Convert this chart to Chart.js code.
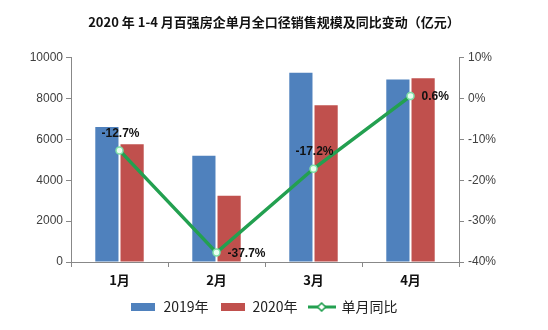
<!DOCTYPE html>
<html>
<head>
<meta charset="utf-8">
<script src="https://cdn.jsdelivr.net/npm/chart.js@4"></script>
<style>
  html, body { margin: 0; padding: 0; background: #ffffff; }
  #wrap { width: 548px; height: 330px; position: relative; }
</style>
</head>
<body>
<div id="wrap"><canvas id="c" width="548" height="330"></canvas></div>
<script>
// Monthly sales of the top-100 developers (亿元) and year-on-year change (%)
const months = ['1月', '2月', '3月', '4月'];
const sales2019 = [6600, 5200, 9260, 8930];
const sales2020 = [5760, 3240, 7670, 8985];
const yoyChange = [-12.7, -37.7, -17.2, 0.6];
const leftTicks = [0, 2000, 4000, 6000, 8000, 10000];
const rightTicks = [-40, -30, -20, -10, 0, 10];

const BLUE = '#4f81bd';
const RED = '#c0504d';
const GREEN = '#23a050';
const CN = '"Noto Sans CJK SC", "Liberation Sans", sans-serif';
const LAT = '"Liberation Sans", Arial, sans-serif';

// legend swatches
function swatch(w, h, draw) {
  const cv = document.createElement('canvas');
  cv.width = w; cv.height = h;
  draw(cv.getContext('2d'));
  return cv;
}
const blueBox = swatch(24, 8, g => { g.fillStyle = BLUE; g.fillRect(0, 0, 24, 8); });
const redBox = swatch(24, 8, g => { g.fillStyle = RED; g.fillRect(0, 0, 24, 8); });
const lineMark = swatch(28, 10, g => {
  g.strokeStyle = GREEN; g.lineWidth = 3;
  g.beginPath(); g.moveTo(0, 5); g.lineTo(28, 5); g.stroke();
  g.fillStyle = '#ffffff'; g.lineWidth = 1.6;
  g.beginPath(); g.moveTo(14, 1); g.lineTo(18, 5); g.lineTo(14, 9); g.lineTo(10, 5); g.closePath();
  g.fill(); g.stroke();
});

// value labels beside the line points
const pointLabels = {
  id: 'pointLabels',
  afterDatasetsDraw(chart, args, opts) {
    const meta = chart.getDatasetMeta(0);
    const ctx = chart.ctx;
    ctx.save();
    ctx.font = 'bold 12px ' + LAT;
    ctx.fillStyle = '#111';
    ctx.textBaseline = 'middle';
    ctx.textAlign = 'left';
    meta.data.forEach((pt, i) => {
      const txt = yoyChange[i].toFixed(1) + '%';
      const w = ctx.measureText(txt).width;
      if (opts.place[i] === 'above') {
        ctx.fillText(txt, pt.x + 1 - w / 2, pt.y - 17);
      } else {
        ctx.fillText(txt, pt.x + 11, pt.y + 1);
      }
    });
    ctx.restore();
  }
};

// centre the legend under the plot area rather than the whole canvas
const legendShift = {
  id: 'legendShift',
  afterLayout(chart) {
    if (chart.legend) chart.legend.left -= 20;
  }
};

new Chart(document.getElementById('c'), {
  data: {
    labels: months,
    datasets: [
      {
        type: 'line', label: '单月同比', data: yoyChange, yAxisID: 'y1', order: 0,
        borderColor: GREEN, borderWidth: 3.5, backgroundColor: '#c8f5da',
        pointStyle: 'circle', pointRadius: 3.5, pointBorderWidth: 1.5,
        pointBorderColor: '#7fe0a8', pointBackgroundColor: '#e8fff0',
        tension: 0, fill: false
      },
      { type: 'bar', label: '2019年', data: sales2019, yAxisID: 'y', backgroundColor: BLUE, order: 1,
        categoryPercentage: 0.52, barPercentage: 0.92 },
      { type: 'bar', label: '2020年', data: sales2020, yAxisID: 'y', backgroundColor: RED, order: 1,
        categoryPercentage: 0.52, barPercentage: 0.92 }
    ]
  },
  options: {
    responsive: false,
    animation: false,
    layout: { padding: { left: 0, right: 0, top: 0, bottom: 6 } },
    scales: {
      x: {
        grid: { display: true, drawOnChartArea: false, offset: true, tickLength: 5, color: '#888' },
        border: { color: '#888', width: 1 },
        ticks: { font: { family: CN, size: 13, weight: 'bold' }, color: '#111', padding: 5 },
        afterFit(s) { s.height = 27; }
      },
      y: {
        position: 'left', min: 0, max: 10000,
        afterBuildTicks(s) { s.ticks = leftTicks.map(v => ({ value: v })); },
        grid: { display: true, drawOnChartArea: false, tickLength: 5, color: '#888' },
        border: { color: '#888', width: 1 },
        ticks: { font: { family: LAT, size: 12 }, color: '#404040', padding: 3, callback: v => String(v) },
        afterFit(s) { s.width = 71; }
      },
      y1: {
        position: 'right', min: -40, max: 10,
        afterBuildTicks(s) { s.ticks = rightTicks.map(v => ({ value: v })); },
        grid: { display: true, drawOnChartArea: false, tickLength: 5, color: '#888' },
        border: { color: '#888', width: 1 },
        ticks: { font: { family: LAT, size: 12 }, color: '#404040', padding: 4, callback: v => v + '%' },
        afterFit(s) { s.width = 89; }
      }
    },
    plugins: {
      title: {
        display: true,
        text: '2020 年 1-4 月百强房企单月全口径销售规模及同比变动（亿元）',
        font: { family: CN, size: 13, weight: 'bold' }, color: '#111',
        padding: { top: 14, bottom: 28 }
      },
      legend: {
        position: 'bottom',
        labels: {
          usePointStyle: true, pointStyleWidth: 26, boxHeight: 10,
          font: { family: CN, size: 14 }, color: '#222', padding: 11,
          generateLabels(chart) {
            const imgs = [blueBox, redBox, lineMark];
            const order = [1, 2, 0];
            return order.map((di, k) => ({
              text: chart.data.datasets[di].label,
              pointStyle: imgs[k], datasetIndex: di,
              fillStyle: 'transparent', strokeStyle: 'transparent', lineWidth: 0,
              fontColor: '#222'
            }));
          }
        }
      },
      tooltip: { enabled: false },
      pointLabels: { place: ['above', 'right', 'above', 'right'] }
    }
  },
  plugins: [pointLabels, legendShift]
});
</script>
</body>
</html>
